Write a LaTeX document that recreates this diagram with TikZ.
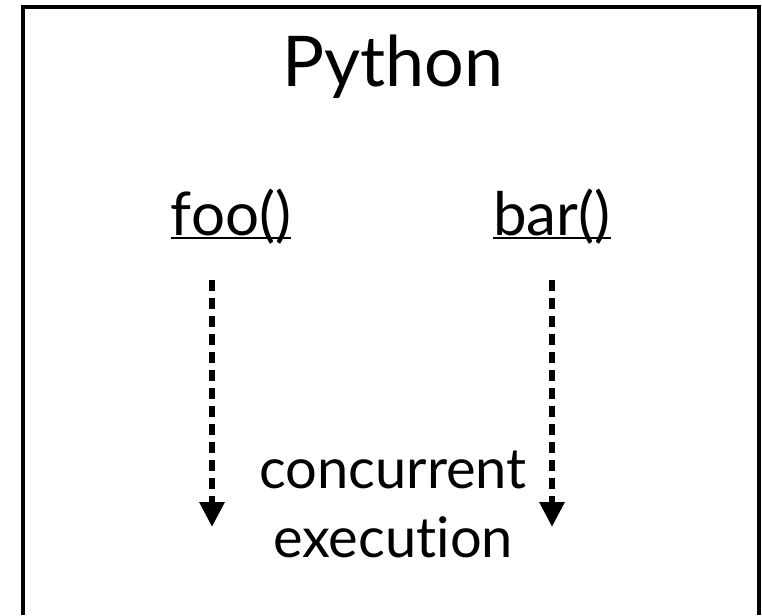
\documentclass[tikz,border=0pt]{standalone}
\usepackage{fontspec}
\setmainfont{Lato}[Ligatures=NoCommon]
\usetikzlibrary{arrows.meta}
\newcommand{\fnname}[1]{\setbox0\hbox{#1}\rlap{\rule[-4pt]{\wd0}{2pt}}\box0}
\tikzstyle{title} = [
    inner sep=0pt,
    anchor=base,
    font=\fontsize{70}{84}\selectfont
]
\tikzstyle{funcname} = [
    inner sep=0pt,
    anchor=base,
    font=\fontsize{60}{72}\selectfont
]
\tikzstyle{note} = [
    inner sep=0pt,
    anchor=base,
    align=center,
    font=\fontsize{56}{69}\selectfont
]
\tikzstyle{arrow} = [
    line width=6pt,
    dash pattern=on 11pt off 7pt,
    -{Triangle[width=24pt,length=25pt]}
]
\begin{document}
\begin{tikzpicture}[x=1pt, y=-1pt]
\useasboundingbox (0,0) rectangle (762,615);

% frame, open at the bottom
\draw [line width=4pt] (22.7,615) -- (22.7,7.3) -- (759,7.3) -- (759,615);

\node (python) [title] at (393,87) {Python};

\node (foo) [funcname] at (231,235) {\fnname{foo()}};
\node (bar) [funcname] at (552,235) {\fnname{bar()}};

% base anchor sits on the last line
\node (conc) [note] at (393,557) {concurrent\\execution};

\coordinate (foostart) at (212,280);
\coordinate (fooend) at (212,527);
\coordinate (barstart) at (552,280);
\coordinate (barend) at (552,527);

\draw [arrow] (foostart) -- (fooend);
\draw [arrow] (barstart) -- (barend);

\end{tikzpicture}
\end{document}
